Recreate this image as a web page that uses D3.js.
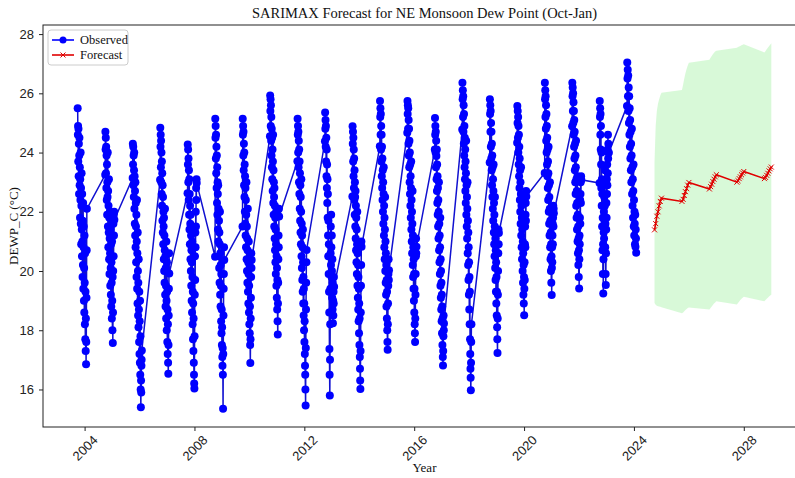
<!DOCTYPE html>
<html>
<head>
<meta charset="utf-8">
<script src="https://cdn.jsdelivr.net/npm/d3@7"></script>
<style>
  body { margin: 0; background: #fff; }
  svg { display: block; font-family: "Liberation Serif", "Times New Roman", serif; }
  .tick text { font-size: 13px; fill: #222; }
  .tick line { stroke: #222; }
</style>
</head>
<body>
<div id="graph"></div>
<script>
// Oct-Jan season start years for the observed data
var seasonYears = [2003, 2004, 2005, 2006, 2007, 2008, 2009, 2010, 2011, 2012, 2013,
                   2014, 2015, 2016, 2017, 2018, 2019, 2020, 2021, 2022, 2023];

// observed dew point (sampled through each season), one array per season
var obs2003 = [25.5, 24.6, 24.9, 23.7, 24.8, 23.2, 24.3, 22.6, 23.9, 24.5, 22.9, 23.5, 21.8, 23.1, 22.4, 24.0, 21.6, 22.8, 20.9, 22.2, 23.3, 21.4, 20.5, 22.6, 21.0, 19.8, 21.7, 20.2, 22.3, 19.4, 20.8, 21.5, 19.0, 20.1, 18.6, 21.2, 19.6, 18.2, 20.6, 17.7, 19.3, 17.3, 18.4, 16.85, 17.6, 19.1, 20.7, 22.1];
var obs2004 = [23.25, 24.7, 24.1, 24.5, 23.3, 24.2, 22.8, 23.9, 22.4, 23.6, 21.9, 23.0, 22.5, 24.0, 21.5, 22.7, 20.8, 22.2, 21.3, 23.1, 20.4, 21.8, 19.9, 21.1, 22.0, 20.6, 19.5, 21.4, 20.1, 19.2, 20.9, 18.8, 20.3, 19.6, 18.4, 21.0, 19.0, 18.0, 19.8, 17.57, 18.6, 20.0, 21.6, 20.5, 21.9, 21.2, 22.0, 21.73];
var obs2005 = [23.14, 24.3, 23.6, 24.2, 22.9, 23.9, 22.5, 23.4, 24.0, 22.1, 23.2, 21.6, 22.7, 21.2, 23.0, 20.8, 22.3, 21.5, 20.3, 21.9, 19.8, 21.0, 22.4, 19.4, 20.6, 18.9, 21.3, 20.0, 18.5, 19.6, 18.1, 20.4, 18.7, 17.6, 19.3, 17.2, 18.3, 16.9, 19.0, 16.5, 17.8, 16.0, 15.4, 16.3, 15.9, 16.8, 17.0, 17.32];
var obs2006 = [23.08, 24.84, 24.2, 24.6, 23.5, 24.4, 23.0, 24.0, 22.6, 23.7, 22.2, 23.3, 21.7, 22.9, 21.3, 22.5, 20.9, 22.0, 21.5, 20.4, 21.8, 20.0, 21.2, 19.6, 20.7, 22.1, 19.2, 20.5, 18.8, 20.1, 19.5, 18.4, 21.0, 19.0, 18.0, 20.3, 19.3, 17.6, 18.7, 17.2, 18.2, 16.9, 16.53, 17.5, 18.5, 19.4, 20.6, 19.92];
var obs2007 = [22.63, 24.27, 23.6, 24.1, 23.0, 23.8, 22.4, 23.4, 21.9, 23.1, 21.4, 22.6, 20.9, 22.2, 21.6, 20.4, 21.9, 20.0, 21.2, 19.5, 20.7, 19.0, 20.3, 18.6, 21.0, 19.8, 18.2, 19.3, 17.7, 18.9, 17.3, 18.4, 16.9, 16.5, 16.2, 16.03, 17.8, 19.2, 20.5, 19.7, 21.3, 20.8, 22.0, 21.5, 22.8, 22.4, 23.1, 22.97];
var obs2008 = [20.48, 25.14, 24.5, 24.9, 23.8, 24.6, 23.3, 24.2, 22.8, 23.9, 22.3, 23.5, 21.9, 23.0, 22.6, 21.4, 22.9, 21.0, 22.1, 20.5, 21.7, 20.1, 21.3, 19.6, 20.9, 22.0, 19.2, 20.6, 18.8, 20.2, 19.5, 18.3, 19.9, 17.9, 18.7, 17.5, 18.1, 17.1, 16.8, 17.4, 16.5, 15.35, 17.2, 18.5, 19.4, 19.9, 20.8, 20.37];
var obs2009 = [21.5, 25.14, 24.6, 24.9, 23.9, 24.7, 23.4, 24.3, 22.9, 24.0, 22.5, 23.6, 22.0, 23.2, 21.6, 22.8, 21.2, 22.4, 20.8, 21.9, 23.0, 20.4, 21.5, 20.0, 21.1, 19.6, 20.7, 22.1, 19.3, 20.3, 18.9, 19.9, 21.0, 18.6, 19.5, 18.2, 20.2, 17.9, 18.8, 17.5, 16.89, 17.7, 18.4, 19.1, 19.8, 20.6, 20.1, 20.37];
var obs2010 = [24.55, 25.93, 25.4, 25.8, 24.9, 25.6, 24.4, 25.2, 23.9, 24.8, 23.5, 24.5, 23.1, 24.1, 22.7, 23.7, 24.6, 22.3, 23.4, 21.9, 23.0, 22.5, 21.5, 22.8, 21.1, 22.2, 20.7, 21.8, 20.3, 21.4, 19.9, 20.9, 22.0, 19.5, 20.5, 19.1, 20.1, 18.7, 19.7, 18.3, 17.86, 18.9, 19.6, 20.4, 21.2, 20.8, 22.1, 21.84];
var obs2011 = [23.71, 25.14, 24.6, 24.9, 24.0, 24.7, 23.5, 24.4, 23.0, 24.1, 22.6, 23.7, 22.1, 23.3, 21.7, 22.9, 21.3, 22.5, 20.9, 22.0, 23.1, 20.5, 21.6, 20.1, 21.2, 19.7, 20.8, 19.3, 21.4, 20.3, 18.9, 19.8, 18.5, 19.4, 18.0, 18.9, 17.6, 18.3, 17.2, 16.8, 16.5, 16.0, 15.46, 17.4, 18.7, 19.6, 20.3, 20.71];
var obs2012 = [24.38, 25.35, 24.8, 25.1, 24.2, 24.9, 23.7, 24.5, 23.2, 24.1, 22.8, 23.6, 22.3, 23.1, 21.8, 22.6, 21.2, 20.5, 21.7, 19.9, 20.9, 19.3, 18.6, 17.37, 16.5, 15.8, 17.0, 18.2, 19.4, 20.6, 21.5, 20.2, 21.9, 20.8, 19.8, 21.2, 20.0, 19.1, 20.4, 18.7, 19.6, 18.24, 19.0, 18.5, 19.3, 18.9, 19.8, 19.47];
var obs2013 = [22.52, 24.89, 24.3, 24.7, 23.7, 24.5, 23.2, 24.1, 22.8, 23.8, 22.4, 23.4, 21.9, 23.0, 22.5, 21.5, 22.7, 21.1, 22.2, 20.7, 21.8, 20.3, 21.4, 19.9, 20.9, 22.0, 19.5, 20.6, 19.1, 20.2, 18.7, 19.8, 18.3, 19.4, 17.9, 18.9, 17.5, 18.4, 17.1, 16.7, 16.3, 16.02, 17.3, 18.6, 19.5, 20.2, 21.0, 20.82];
var obs2014 = [24.21, 25.74, 25.2, 25.5, 24.6, 25.3, 24.1, 24.9, 23.7, 24.6, 23.2, 24.2, 22.8, 23.8, 22.4, 23.4, 22.0, 23.0, 21.6, 22.6, 23.5, 21.2, 22.2, 20.8, 21.8, 20.4, 21.4, 22.5, 20.0, 21.0, 19.6, 20.6, 19.2, 20.2, 18.8, 19.7, 18.4, 19.3, 18.0, 17.6, 17.34, 18.2, 18.9, 19.5, 19.9, 20.4, 19.7, 20.03];
var obs2015 = [24.67, 25.74, 25.3, 25.6, 24.8, 25.5, 24.3, 25.1, 23.9, 24.8, 23.5, 24.4, 23.0, 24.0, 22.6, 23.6, 22.2, 23.2, 21.8, 22.8, 23.7, 21.4, 22.4, 21.0, 22.0, 20.6, 21.6, 22.7, 20.2, 21.2, 19.8, 20.8, 19.4, 20.4, 19.0, 19.9, 18.6, 19.4, 18.2, 17.9, 17.6, 18.4, 19.2, 19.9, 20.5, 21.1, 20.6, 20.82];
var obs2016 = [24.1, 25.17, 24.6, 24.9, 24.0, 24.7, 23.5, 24.4, 23.88, 23.1, 24.1, 22.7, 23.6, 22.3, 23.2, 21.9, 22.8, 21.5, 22.4, 21.1, 22.0, 23.0, 20.7, 21.6, 20.3, 21.2, 19.9, 20.8, 21.8, 19.5, 20.4, 19.1, 20.0, 18.7, 19.6, 18.3, 19.2, 17.9, 18.8, 17.5, 18.4, 17.1, 16.81, 17.3, 17.8, 18.5, 18.0, 18.23];
var obs2017 = [24.78, 26.36, 25.8, 26.1, 25.2, 25.9, 24.7, 25.6, 24.3, 25.3, 23.9, 24.9, 23.5, 24.5, 23.1, 24.1, 22.7, 23.7, 22.3, 23.3, 24.4, 21.9, 22.9, 21.5, 22.5, 21.1, 22.1, 23.0, 20.6, 21.7, 20.2, 21.3, 19.7, 20.8, 19.2, 20.3, 18.7, 19.8, 18.2, 19.3, 17.7, 17.2, 16.7, 16.4, 15.97, 16.9, 17.6, 18.2];
var obs2018 = [23.66, 25.8, 25.3, 25.6, 24.7, 25.4, 24.2, 25.0, 23.8, 24.7, 23.4, 24.3, 22.9, 23.9, 22.5, 23.5, 22.1, 23.1, 21.7, 22.7, 23.6, 21.3, 22.3, 20.9, 21.9, 20.5, 21.5, 22.5, 20.1, 21.1, 19.7, 20.7, 19.3, 20.3, 18.9, 19.8, 18.5, 19.3, 18.1, 17.7, 17.23, 18.4, 19.2, 20.0, 20.6, 21.4, 20.9, 21.28];
var obs2019 = [24.33, 25.57, 25.0, 25.4, 24.5, 25.2, 24.0, 24.9, 23.6, 24.6, 23.2, 24.2, 22.8, 23.8, 22.4, 23.4, 22.0, 23.0, 21.6, 22.6, 23.5, 21.2, 22.2, 20.8, 21.8, 20.4, 21.4, 22.4, 20.0, 21.0, 19.6, 20.6, 19.2, 20.2, 18.9, 19.8, 18.51, 19.4, 20.3, 19.7, 20.9, 21.5, 20.8, 21.9, 22.3, 21.7, 22.7, 22.52];
var obs2020 = [23.31, 26.36, 25.8, 26.1, 25.2, 25.9, 24.8, 25.6, 24.4, 25.3, 24.0, 24.9, 23.6, 24.5, 23.2, 24.1, 22.8, 23.7, 22.4, 23.3, 24.2, 22.0, 22.9, 21.6, 22.5, 21.2, 22.1, 23.0, 20.8, 21.7, 20.4, 21.3, 20.0, 20.9, 19.6, 20.5, 19.19, 20.1, 20.8, 20.3, 21.2, 21.6, 20.9, 21.8, 22.2, 21.5, 22.1, 21.95];
var obs2021 = [24.89, 26.36, 25.9, 26.2, 25.4, 26.0, 25.0, 25.7, 24.6, 25.4, 24.2, 25.1, 23.8, 24.7, 23.4, 24.3, 23.0, 23.9, 22.6, 23.5, 24.4, 22.2, 23.1, 21.8, 22.7, 21.4, 22.3, 23.2, 21.0, 21.9, 20.6, 21.5, 20.2, 21.1, 19.8, 20.7, 19.41, 20.4, 21.2, 20.9, 21.8, 22.4, 21.6, 22.6, 23.0, 22.3, 23.2, 23.08];
var obs2022 = [22.97, 25.74, 25.2, 25.5, 24.6, 25.3, 24.1, 24.9, 23.6, 22.8, 24.0, 22.2, 23.1, 21.5, 22.6, 20.7, 21.8, 19.9, 20.9, 19.24, 20.4, 21.3, 22.0, 21.1, 22.5, 21.7, 23.0, 22.2, 23.4, 20.8, 21.6, 19.9, 19.53, 20.6, 21.4, 22.3, 21.8, 23.1, 22.6, 23.6, 22.9, 24.1, 23.3, 24.6, 23.8, 24.3, 24.0, 23.99];
var obs2023 = [25.57, 27.04, 26.5, 26.8, 25.9, 26.6, 25.4, 26.2, 25.0, 25.9, 24.6, 25.5, 24.2, 25.1, 23.8, 24.7, 23.4, 24.3, 23.0, 23.9, 24.8, 22.6, 23.5, 22.2, 23.1, 21.8, 22.7, 23.6, 21.5, 22.4, 21.2, 22.0, 21.6, 20.9, 21.9, 20.82, 21.4, 21.1, 20.62];

var observedSeasons = [obs2003, obs2004, obs2005, obs2006, obs2007, obs2008, obs2009,
                       obs2010, obs2011, obs2012, obs2013, obs2014, obs2015, obs2016,
                       obs2017, obs2018, obs2019, obs2020, obs2021, obs2022, obs2023];

// forecast seasons, mean and confidence bounds
var forecastYears = [2024, 2025, 2026, 2027, 2028];
var fcMean = [
  [21.39, 21.6, 21.85, 22.0, 22.2, 22.35, 22.46],
  [22.35, 22.42, 22.55, 22.68, 22.78, 22.9, 22.99],
  [22.77, 22.85, 22.93, 23.02, 23.1, 23.18, 23.25],
  [23.0, 23.05, 23.12, 23.18, 23.25, 23.31, 23.36],
  [23.12, 23.16, 23.23, 23.3, 23.38, 23.45, 23.51]
];
var fcUpper = [
  [23.7, 24.9, 25.4, 25.65, 25.8, 25.93, 26.02],
  [26.11, 26.3, 26.5, 26.68, 26.82, 26.94, 27.03],
  [27.13, 27.2, 27.26, 27.32, 27.37, 27.41, 27.44],
  [27.54, 27.56, 27.58, 27.6, 27.62, 27.64, 27.66],
  [27.38, 27.43, 27.49, 27.54, 27.59, 27.64, 27.69]
];
var fcLower = [
  [18.92, 18.86, 18.83, 18.81, 18.8, 18.79, 18.78],
  [18.57, 18.6, 18.64, 18.68, 18.72, 18.75, 18.77],
  [18.7, 18.75, 18.8, 18.85, 18.9, 18.94, 18.98],
  [18.87, 18.92, 18.97, 19.02, 19.06, 19.1, 19.13],
  [18.98, 19.02, 19.06, 19.1, 19.14, 19.17, 19.2]
];

var yTicks = [16, 18, 20, 22, 24, 26, 28];
var xTickYears = [2004, 2008, 2012, 2016, 2020, 2024, 2028];

// set the dimensions of the graph
var W = 795, H = 478;
var plot = { left: 43, right: 806, top: 25, bottom: 427 };

// spread a season's samples between Oct 1 and the season end
function seasonDates(year, n, endMonth, endDay) {
  var t0 = new Date(year, 9, 1).getTime(),
      t1 = new Date(year + 1, endMonth, endDay).getTime();
  return d3.range(n).map(function(i) { return new Date(t0 + (t1 - t0) * i / (n - 1)); });
}

var observed = [];
observedSeasons.forEach(function(vals, k) {
  var dates = seasonDates(seasonYears[k], vals.length, 0, 31);
  vals.forEach(function(v, i) { observed.push({ date: dates[i], value: v }); });
});

var forecast = [];
forecastYears.forEach(function(yr, k) {
  var dates = seasonDates(yr, fcMean[k].length, 0, 1);
  fcMean[k].forEach(function(v, i) {
    forecast.push({ date: dates[i], value: v, lo: fcLower[k][i], hi: fcUpper[k][i] });
  });
});

// scales with matplotlib-like 5% margins
var t0 = observed[0].date, t1 = forecast[forecast.length - 1].date;
var tpad = (t1 - t0) * 0.05;
var x = d3.scaleTime()
    .domain([new Date(t0.getTime() - tpad), new Date(t1.getTime() + tpad)])
    .range([plot.left, plot.right]);

var ymin = Math.min(d3.min(observed, function(d) { return d.value; }), d3.min(forecast, function(d) { return d.lo; })),
    ymax = Math.max(d3.max(observed, function(d) { return d.value; }), d3.max(forecast, function(d) { return d.hi; })),
    ypad = (ymax - ymin) * 0.05;
var y = d3.scaleLinear().domain([ymin - ypad, ymax + ypad]).range([plot.bottom, plot.top]);

var svg = d3.select("#graph").append("svg")
    .attr("width", W)
    .attr("height", H);

svg.append("clipPath").attr("id", "clip")
  .append("rect")
    .attr("x", plot.left).attr("y", plot.top)
    .attr("width", plot.right - plot.left).attr("height", plot.bottom - plot.top);

var g = svg.append("g").attr("clip-path", "url(#clip)");

// confidence band
g.append("path")
    .datum(forecast)
    .attr("fill", "#90ee90")
    .attr("fill-opacity", 0.35)
    .attr("d", d3.area()
      .x(function(d) { return x(d.date); })
      .y0(function(d) { return y(d.lo); })
      .y1(function(d) { return y(d.hi); }));

var line = d3.line()
    .x(function(d) { return x(d.date); })
    .y(function(d) { return y(d.value); });

// observed line and markers
g.append("path")
    .datum(observed)
    .attr("fill", "none")
    .attr("stroke", "#1010d0")
    .attr("stroke-width", 1.5)
    .attr("d", line);

g.selectAll("circle.obs")
    .data(observed)
  .enter().append("circle")
    .attr("class", "obs")
    .attr("cx", function(d) { return x(d.date); })
    .attr("cy", function(d) { return y(d.value); })
    .attr("r", 4)
    .attr("fill", "#0000ff");

// forecast line and x markers
g.append("path")
    .datum(forecast)
    .attr("fill", "none")
    .attr("stroke", "#e00000")
    .attr("stroke-width", 1.6)
    .attr("d", line);

var xm = d3.symbol().type(d3.symbolX).size(18);
g.selectAll("path.fc")
    .data(forecast)
  .enter().append("path")
    .attr("class", "fc")
    .attr("transform", function(d) { return "translate(" + x(d.date) + "," + y(d.value) + ")"; })
    .attr("d", xm)
    .attr("fill", "none")
    .attr("stroke", "#e00000")
    .attr("stroke-width", 1);

// axes
var xAxis = svg.append("g")
    .attr("class", "x axis")
    .attr("transform", "translate(0," + plot.bottom + ")")
    .call(d3.axisBottom(x)
      .tickValues(xTickYears.map(function(yr) { return new Date(yr, 0, 1); }))
      .tickFormat(d3.timeFormat("%Y"))
      .tickSize(4));
xAxis.select(".domain").remove();
xAxis.selectAll(".tick text")
    .attr("y", 0).attr("dy", null)
    .attr("text-anchor", "middle")
    .attr("dominant-baseline", "central")
    .attr("transform", "translate(0,21) rotate(-45)");

var yAxis = svg.append("g")
    .attr("class", "y axis")
    .attr("transform", "translate(" + plot.left + ",0)")
    .call(d3.axisLeft(y).tickValues(yTicks).tickSize(4).tickPadding(5));
yAxis.select(".domain").remove();

// spines
svg.append("rect")
    .attr("x", plot.left).attr("y", plot.top)
    .attr("width", plot.right - plot.left).attr("height", plot.bottom - plot.top)
    .attr("fill", "none")
    .attr("stroke", "#222")
    .attr("stroke-width", 1);

// title and labels
svg.append("text")
    .attr("x", (plot.left + plot.right) / 2).attr("y", 18)
    .attr("text-anchor", "middle")
    .style("font-size", "14.5px")
    .attr("fill", "#111")
    .text("SARIMAX Forecast for NE Monsoon Dew Point (Oct-Jan)");

svg.append("text")
    .attr("x", (plot.left + plot.right) / 2).attr("y", 472)
    .attr("text-anchor", "middle")
    .style("font-size", "13px")
    .attr("fill", "#111")
    .text("Year");

svg.append("text")
    .attr("transform", "translate(18," + (plot.top + plot.bottom) / 2 + ") rotate(-90)")
    .attr("text-anchor", "middle")
    .style("font-size", "13px")
    .attr("fill", "#111")
    .text("DEWP_C (°C)");

// legend
var leg = svg.append("g").attr("transform", "translate(48,30)");
leg.append("rect")
    .attr("width", 80).attr("height", 35).attr("rx", 3)
    .attr("fill", "#fff").attr("fill-opacity", 0.85)
    .attr("stroke", "#ccc");

var items = [
  { label: "Observed", color: "#0000ff", marker: "o" },
  { label: "Forecast", color: "#e00000", marker: "x" }
];
items.forEach(function(it, i) {
  var row = leg.append("g").attr("transform", "translate(0," + (10 + i * 15) + ")");
  row.append("line")
      .attr("x1", 4).attr("x2", 26)
      .attr("stroke", it.color).attr("stroke-width", 1.6);
  if (it.marker === "o") {
    row.append("circle").attr("cx", 15).attr("r", 3.5).attr("fill", it.color);
  } else {
    row.append("path").attr("transform", "translate(15,0)").attr("d", xm)
        .attr("fill", "none").attr("stroke", it.color).attr("stroke-width", 1);
  }
  row.append("text")
      .attr("x", 32).attr("y", 0).attr("dy", "0.35em")
      .style("font-size", "12.5px")
      .attr("fill", "#111")
      .text(it.label);
});
</script>
</body>
</html>
